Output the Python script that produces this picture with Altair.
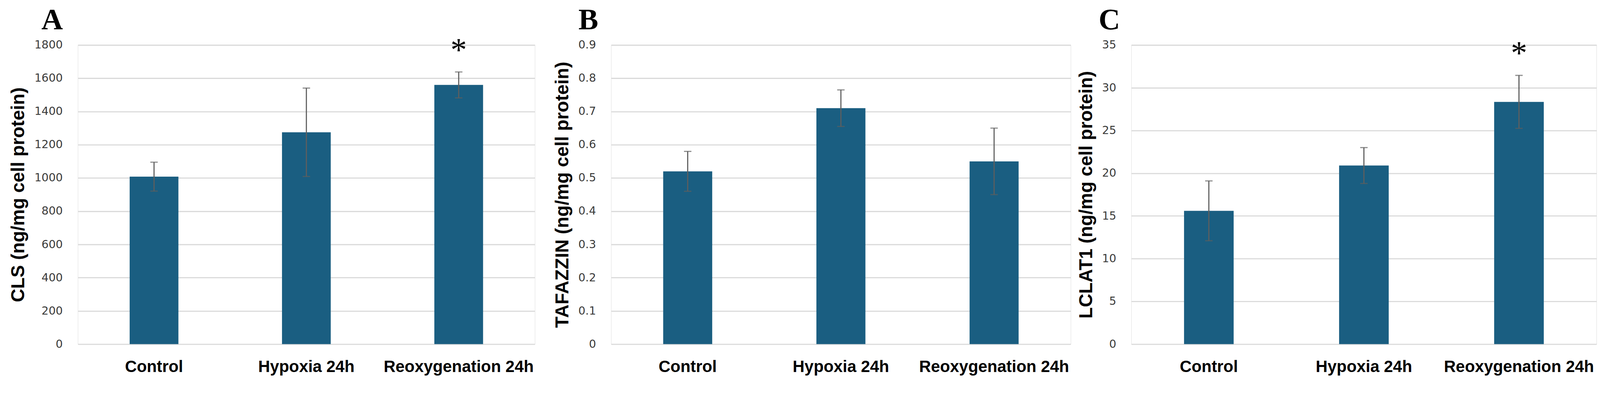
import altair as alt
import pandas as pd

categories = ["Control", "Hypoxia 24h", "Reoxygenation 24h"]

cls_values = [1008, 1275, 1560]
cls_errors = [87, 266, 78]
cls_stars = ["", "", "*"]

taz_values = [0.52, 0.71, 0.55]
taz_errors = [0.06, 0.055, 0.10]
taz_stars = ["", "", ""]

lclat_values = [15.6, 20.9, 28.35]
lclat_errors = [3.5, 2.1, 3.1]
lclat_stars = ["", "", "*"]

panel_letters = ["A", "B", "C"]
y_titles = ["CLS (ng/mg cell protein)", "TAFAZZIN (ng/mg cell protein)", "LCLAT1  (ng/mg cell protein)"]
y_domains = [[0, 1800], [0, 0.9], [0, 35]]
y_ticks = [
    [0, 200, 400, 600, 800, 1000, 1200, 1400, 1600, 1800],
    [0, 0.1, 0.2, 0.3, 0.4, 0.5, 0.6, 0.7, 0.8, 0.9],
    [0, 5, 10, 15, 20, 25, 30, 35],
]

BAR = "#1a5e81"
ERR = "#5e5e5e"
GRID = "#d9d9d9"


def panel(vals, errs, stars, letter, ytitle, dom, ticks, width, letter_dx):
    df = pd.DataFrame({
        "cat": categories,
        "val": vals,
        "lo": [v - e for v, e in zip(vals, errs)],
        "hi": [v + e for v, e in zip(vals, errs)],
        "star": stars,
    })
    x = alt.X(
        "cat:N",
        sort=categories,
        scale=alt.Scale(paddingInner=0.68, paddingOuter=0.34),
        axis=alt.Axis(
            title=None,
            labelAngle=0,
            domain=False,
            ticks=False,
            labelPadding=40,
            labelLimit=0,
            labelFont="Liberation Sans",
            labelFontSize=44,
            labelFontWeight="bold",
            labelColor="black",
        ),
    )
    yaxis = alt.Axis(
        title=ytitle,
        values=ticks,
        labelExpr="datum.value == 0 ? '0' : format(datum.value, '~g')",
        grid=True,
        gridColor=GRID,
        gridWidth=3,
        domain=False,
        ticks=False,
        labelPadding=41,
        labelFont="DejaVu Sans",
        labelFontSize=30,
        labelColor="#3a3a3a",
        titleFont="Liberation Sans",
        titleFontSize=50,
        titleFontWeight="bold",
        titleColor="black",
        titlePadding=17,
    )
    yscale = alt.Scale(domain=dom, nice=False, zero=True)
    base = alt.Chart(df)
    bars = base.mark_bar(color=BAR).encode(
        x=x, y=alt.Y("val:Q", scale=yscale, axis=yaxis)
    )
    rule = base.mark_rule(color=ERR, strokeWidth=3).encode(
        x=alt.X("cat:N", sort=categories), y="lo:Q", y2="hi:Q"
    )
    cap_hi = base.mark_tick(color=ERR, thickness=3, size=20).encode(
        x=alt.X("cat:N", sort=categories), y="hi:Q"
    )
    cap_lo = base.mark_tick(color=ERR, thickness=3, size=20).encode(
        x=alt.X("cat:N", sort=categories), y="lo:Q"
    )
    star = base.transform_filter("datum.star != ''").mark_text(
        font="Liberation Serif", fontSize=88, color="black", baseline="middle", dy=-56
    ).encode(x=alt.X("cat:N", sort=categories), y="hi:Q", text="star:N")
    label = alt.Chart(pd.DataFrame({"t": [letter]})).mark_text(
        font="Liberation Serif", fontSize=80, fontWeight="bold", color="black",
        align="left", baseline="alphabetic",
    ).encode(text="t:N", x=alt.value(letter_dx), y=alt.value(-42))
    return alt.layer(bars, rule, cap_hi, cap_lo, star, label).properties(
        width=width,
        height=804,
    )


pa = panel(cls_values, cls_errors, cls_stars, panel_letters[0], y_titles[0], y_domains[0], y_ticks[0], 1229, -98)
pb = panel(taz_values, taz_errors, taz_stars, panel_letters[1], y_titles[1], y_domains[1], y_ticks[1], 1236, -88)
pc = panel(lclat_values, lclat_errors, lclat_stars, panel_letters[2], y_titles[2], y_domains[2], y_ticks[2], 1251, -88)

chart = alt.hconcat(alt.hconcat(pa, pb, spacing=47), pc, spacing=15).properties(
    padding={"left": 16, "top": -19, "right": 0, "bottom": 0}
).configure_view(stroke=None).configure(background="white")

chart.save("out.html", embed_options={"renderer": "svg", "actions": False})
